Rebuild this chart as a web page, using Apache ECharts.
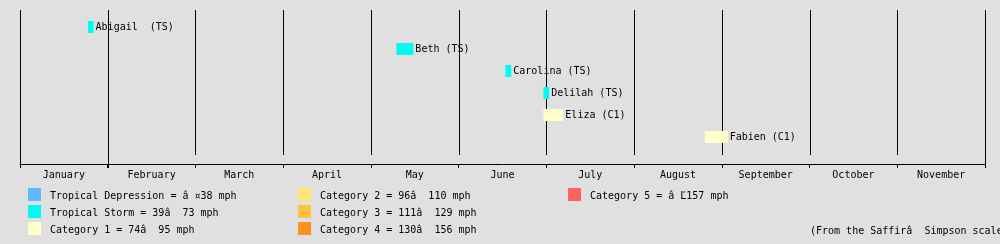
<!DOCTYPE html>
<html>
<head>
<meta charset="utf-8">
<script src="https://cdn.jsdelivr.net/npm/echarts@6/dist/echarts.min.js"></script>
<style>
html,body{margin:0;padding:0;background:#e0e0e0;}
#chart{width:1000px;height:244px;}
</style>
</head>
<body>
<div id="chart"></div>
<script>
// ---- data ----
var months = ["January","February","March","April","May","June","July","August","September","October","November"];
var daysInMonth = [31,29,31,30,31,30,31,31,30,31,30];
var stormNames = ["Abigail ","Beth","Carolina","Delilah","Eliza","Fabien"];
var stormCats = ["TS","TS","TS","TS","C1","C1"];
var stormStart = [[1,25],[5,10],[6,17],[6,30],[6,30],[8,26]]; // [month, day]
var stormEnd   = [[1,26],[5,15],[6,18],[7,1],[7,6],[9,2]];
var legendCodes = ["TD","TS","C1","C2","C3","C4","C5"];
var legendLabels = [
  "Tropical Depression = \u00e2 \u00a438 mph",
  "Tropical Storm = 39\u00e2  73 mph",
  "Category 1 = 74\u00e2  95 mph",
  "Category 2 = 96\u00e2  110 mph",
  "Category 3 = 111\u00e2  129 mph",
  "Category 4 = 130\u00e2  156 mph",
  "Category 5 = \u00e2 \u013d157 mph"
];
var legendColors = ["#5ebaff","#00faf4","#ffffcc","#ffe775","#ffc140","#ff8f20","#ff6060"];
var footnote = "(From the Saffir\u00e2  Simpson scale)";

// ---- build ----
var catColor = {};
legendCodes.forEach(function(c,i){catColor[c]=legendColors[i];});
function startPos(md){return (md[0]-1) + (md[1]-1)/daysInMonth[md[0]-1];}
function endPos(md){return (md[0]-1) + md[1]/daysInMonth[md[0]-1];}

var stormData = stormNames.map(function(n,i){
  return {value:[startPos(stormStart[i]), endPos(stormEnd[i]), i],
          label:n + " (" + stormCats[i] + ")", color:catColor[stormCats[i]]};
});
var boundaries = [];
for (var b=0;b<=months.length;b++) boundaries.push(b);

var FONT = "DejaVu Sans Mono";
var chart = echarts.init(document.getElementById('chart'), null, {renderer:'canvas'});

var graphic = [];
var colX = [28, 298, 568], rowY = [188, 205, 222];
legendLabels.forEach(function(t,i){
  var col = Math.floor(i/3), row = i%3;
  graphic.push({type:'rect', left:colX[col], top:rowY[row], shape:{width:13,height:13},
    style:{fill:legendColors[i]}});
  graphic.push({type:'text', x:colX[col]+22, y:rowY[row]+8.5,
    style:{text:t, font:"10px '"+FONT+"'", fill:'#000', textVerticalAlign:'middle'}});
});
graphic.push({type:'text', x:810, y:231,
  style:{text:footnote, font:"10px '"+FONT+"'", fill:'#000', textVerticalAlign:'middle'}});

var yMin = -17/22;
chart.setOption({
  backgroundColor:'#e0e0e0',
  animation:false,
  grid:{left:20, right:15, top:10, height:154},
  xAxis:[
    {type:'category', data:months, position:'bottom', boundaryGap:true,
     axisLine:{onZero:false, lineStyle:{color:'#000', width:1}},
     axisTick:{show:true, length:4, lineStyle:{color:'#000'}},
     axisLabel:{color:'#000', fontFamily:FONT, fontSize:10, margin:6},
     splitLine:{show:false}},
    {type:'value', min:0, max:months.length, show:false}
  ],
  yAxis:{type:'value', inverse:true, min:yMin, max:yMin+7, show:false},
  graphic:graphic,
  series:[
    {type:'custom', xAxisIndex:1, silent:true,
     data:boundaries.map(function(b){return [b];}),
     renderItem:function(params, api){
       var idx = params.dataIndex;
       var p = api.coord([api.value(0), yMin]);
       var x = Math.round(p[0]) + 0.5;
       var yEnd = (idx===0||idx===1) ? 168 : (idx===months.length ? 167 : 155);
       return {type:'line', shape:{x1:x, y1:10, x2:x, y2:yEnd},
               style:{stroke:'#000', lineWidth:1}};
     }},
    {type:'custom', xAxisIndex:1, silent:true,
     data:stormData,
     renderItem:function(params, api){
       var d = stormData[params.dataIndex];
       var s = api.coord([api.value(0), api.value(2)]);
       var e = api.coord([api.value(1), api.value(2)]);
       var h = 12;
       return {type:'group', children:[
         {type:'rect', shape:{x:s[0], y:s[1]-h/2, width:e[0]-s[0], height:h},
          style:{fill:d.color}},
         {type:'text', x:e[0]+2, y:s[1],
          style:{text:d.label, font:"10px '"+FONT+"'", fill:'#000', textVerticalAlign:'middle'}}
       ]};
     }}
  ]
});
</script>
</body>
</html>
